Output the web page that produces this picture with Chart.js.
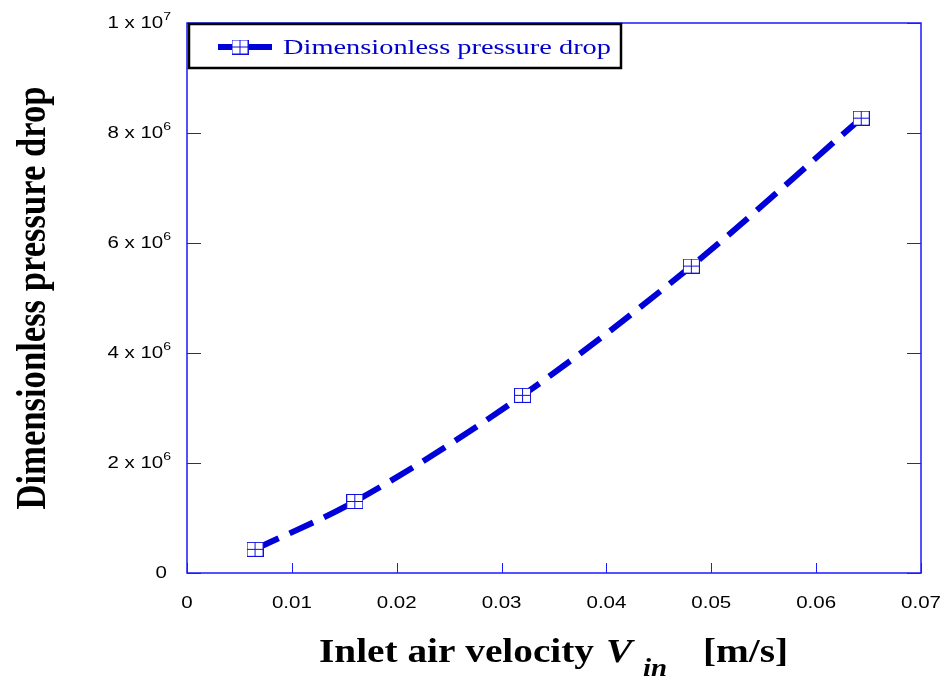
<!DOCTYPE html>
<html><head><meta charset="utf-8">
<script src="https://cdn.jsdelivr.net/npm/chart.js@4/dist/chart.umd.min.js"></script>
<style>html,body{margin:0;padding:0;background:#fff}#wrap{width:947px;height:683px}</style>
</head><body><div id="wrap"><canvas id="c" width="947" height="683"></canvas></div>
<script>
// ---- data ----
const velocity = [0.00649, 0.0160, 0.0320, 0.0481, 0.0643];
const pressureDrop = [0.43e6, 1.30e6, 3.23e6, 5.58e6, 8.27e6];
const xTickValues = [0, 0.01, 0.02, 0.03, 0.04, 0.05, 0.06, 0.07];
const xTickLabels = ['0', '0.01', '0.02', '0.03', '0.04', '0.05', '0.06', '0.07'];
const yTickValues = [0, 2e6, 4e6, 6e6, 8e6, 1e7];
const yTickMantissa = ['0', '2 x 10', '4 x 10', '6 x 10', '8 x 10', '1 x 10'];
const yTickExponent = ['', '6', '6', '6', '6', '7'];
const seriesLabel = 'Dimensionless pressure drop';
const yTitle = 'Dimensionless pressure drop';
const xTitleMain = 'Inlet air velocity';
const xTitleVar = 'V';
const xTitleSub = 'in';
const xTitleUnit = '[m/s]';

const BLUE = '#0000d8';
const AXIS = '#1a1aff';
const SX = 1.28; // horizontal stretch of tick labels

const markerCanvas = (() => {
  const c = document.createElement('canvas'); c.width = 17; c.height = 15;
  const g = c.getContext('2d');
  g.fillStyle = '#fff'; g.fillRect(0, 0, 17, 15);
  g.strokeStyle = '#1010e0'; g.lineWidth = 1;
  g.strokeRect(0.5, 0.5, 16, 14);
  g.beginPath(); g.moveTo(8.5, 0.5); g.lineTo(8.5, 14.5); g.moveTo(0.5, 7.5); g.lineTo(16.5, 7.5); g.stroke();
  return c;
})();

function textScaled(ctx, txt, x, y, sx) {
  ctx.save(); ctx.translate(x, y); ctx.scale(sx, 1); ctx.fillText(txt, 0, 0); ctx.restore();
}

const framePlugin = {
  id: 'frame',
  beforeDatasetsDraw(chart) {
    const { ctx, chartArea: a, scales } = chart;
    ctx.save();
    ctx.strokeStyle = AXIS; ctx.lineWidth = 1.5;
    ctx.strokeRect(a.left, a.top, a.right - a.left, a.bottom - a.top);
    ctx.lineWidth = 1;
    ctx.beginPath();
    yTickValues.forEach(v => {
      const y = Math.round(scales.y.getPixelForValue(v)) + 0.5;
      ctx.moveTo(a.left, y); ctx.lineTo(a.left + 14, y);
      ctx.moveTo(a.right, y); ctx.lineTo(a.right - 14, y);
    });
    xTickValues.forEach(v => {
      const x = Math.round(scales.x.getPixelForValue(v)) + 0.5;
      ctx.moveTo(x, a.bottom); ctx.lineTo(x, a.bottom - 10);
    });
    ctx.stroke();

    // tick labels
    ctx.fillStyle = '#000';
    ctx.textBaseline = 'middle';
    ctx.font = '16px "Liberation Sans"';
    xTickValues.forEach((v, i) => {
      const x = scales.x.getPixelForValue(v);
      const w = ctx.measureText(xTickLabels[i]).width * SX;
      textScaled(ctx, xTickLabels[i], x - w / 2, 604, SX);
    });
    yTickValues.forEach((v, i) => {
      const y = scales.y.getPixelForValue(v);
      const rightEdge = a.left - (yTickExponent[i] ? 16 : 20);
      ctx.font = '11px "Liberation Sans"';
      const ew = yTickExponent[i] ? ctx.measureText(yTickExponent[i]).width * SX : 0;
      ctx.font = '16px "Liberation Sans"';
      const bw = ctx.measureText(yTickMantissa[i]).width * SX;
      textScaled(ctx, yTickMantissa[i], rightEdge - ew - bw, y + 1, SX);
      if (yTickExponent[i]) {
        ctx.font = '11px "Liberation Sans"';
        textScaled(ctx, yTickExponent[i], rightEdge - ew, y - 6, SX);
      }
    });
    ctx.restore();
  },
  afterDraw(chart) {
    const { ctx } = chart;
    ctx.save();
    // legend box
    ctx.strokeStyle = '#000'; ctx.lineWidth = 2.5;
    ctx.strokeRect(189, 24, 432, 44);
    ctx.strokeStyle = BLUE; ctx.lineWidth = 6;
    ctx.beginPath(); ctx.moveTo(218, 47); ctx.lineTo(233, 47); ctx.moveTo(248, 47); ctx.lineTo(272, 47); ctx.stroke();
    ctx.drawImage(markerCanvas, 240 - 8.5, 47 - 7.5);
    ctx.fillStyle = '#0000cc';
    ctx.font = '20px "Liberation Serif"';
    ctx.textBaseline = 'alphabetic';
    const lw = ctx.measureText(seriesLabel).width;
    textScaled(ctx, seriesLabel, 283, 54, 328 / lw);
    // x title
    ctx.fillStyle = '#000';
    ctx.font = 'bold 34px "Liberation Serif"';
    const mw = ctx.measureText(xTitleMain).width;
    const sx = 275 / mw;
    textScaled(ctx, xTitleMain, 319, 662, sx);
    ctx.font = 'italic bold 34px "Liberation Serif"';
    textScaled(ctx, xTitleVar, 606, 662, sx);
    ctx.font = 'italic bold 25px "Liberation Serif"';
    textScaled(ctx, xTitleSub, 643, 676, sx);
    ctx.font = 'bold 34px "Liberation Serif"';
    textScaled(ctx, xTitleUnit, 703, 662, sx);
    // y title
    ctx.font = 'bold 32px "Liberation Serif"';
    const yw = ctx.measureText(yTitle).width;
    ctx.save();
    ctx.translate(45, 298);
    ctx.rotate(-Math.PI / 2);
    ctx.scale(423 / yw, 1.35);
    ctx.textAlign = 'center';
    ctx.fillText(yTitle, 0, 0);
    ctx.restore();
    ctx.restore();
  }
};

new Chart(document.getElementById('c'), {
  type: 'line',
  data: {
    datasets: [{
      label: seriesLabel,
      data: velocity.map((v, i) => ({ x: v, y: pressureDrop[i] })),
      borderColor: BLUE,
      borderWidth: 6,
      borderDash: [26, 12],
      borderCapStyle: 'butt',
      cubicInterpolationMode: 'monotone',
      pointStyle: markerCanvas,
      pointRadius: 8,
      fill: false
    }]
  },
  options: {
    responsive: false,
    animation: false,
    devicePixelRatio: 1,
    layout: { padding: { top: 23, right: 26, left: 0, bottom: 0 } },
    plugins: { legend: { display: false }, tooltip: { enabled: false } },
    scales: {
      x: {
        type: 'linear', min: 0, max: 0.07,
        afterBuildTicks: s => { s.ticks = xTickValues.map(v => ({ value: v })); },
        afterFit: s => { s.height = 110; },
        grid: { display: false, drawTicks: false },
        border: { display: false },
        ticks: { display: false }
      },
      y: {
        type: 'linear', min: 0, max: 1e7,
        afterBuildTicks: s => { s.ticks = yTickValues.map(v => ({ value: v })); },
        afterFit: s => { s.width = 187; },
        grid: { display: false, drawTicks: false },
        border: { display: false },
        ticks: { display: false }
      }
    }
  },
  plugins: [framePlugin]
});
</script>
</body></html>
